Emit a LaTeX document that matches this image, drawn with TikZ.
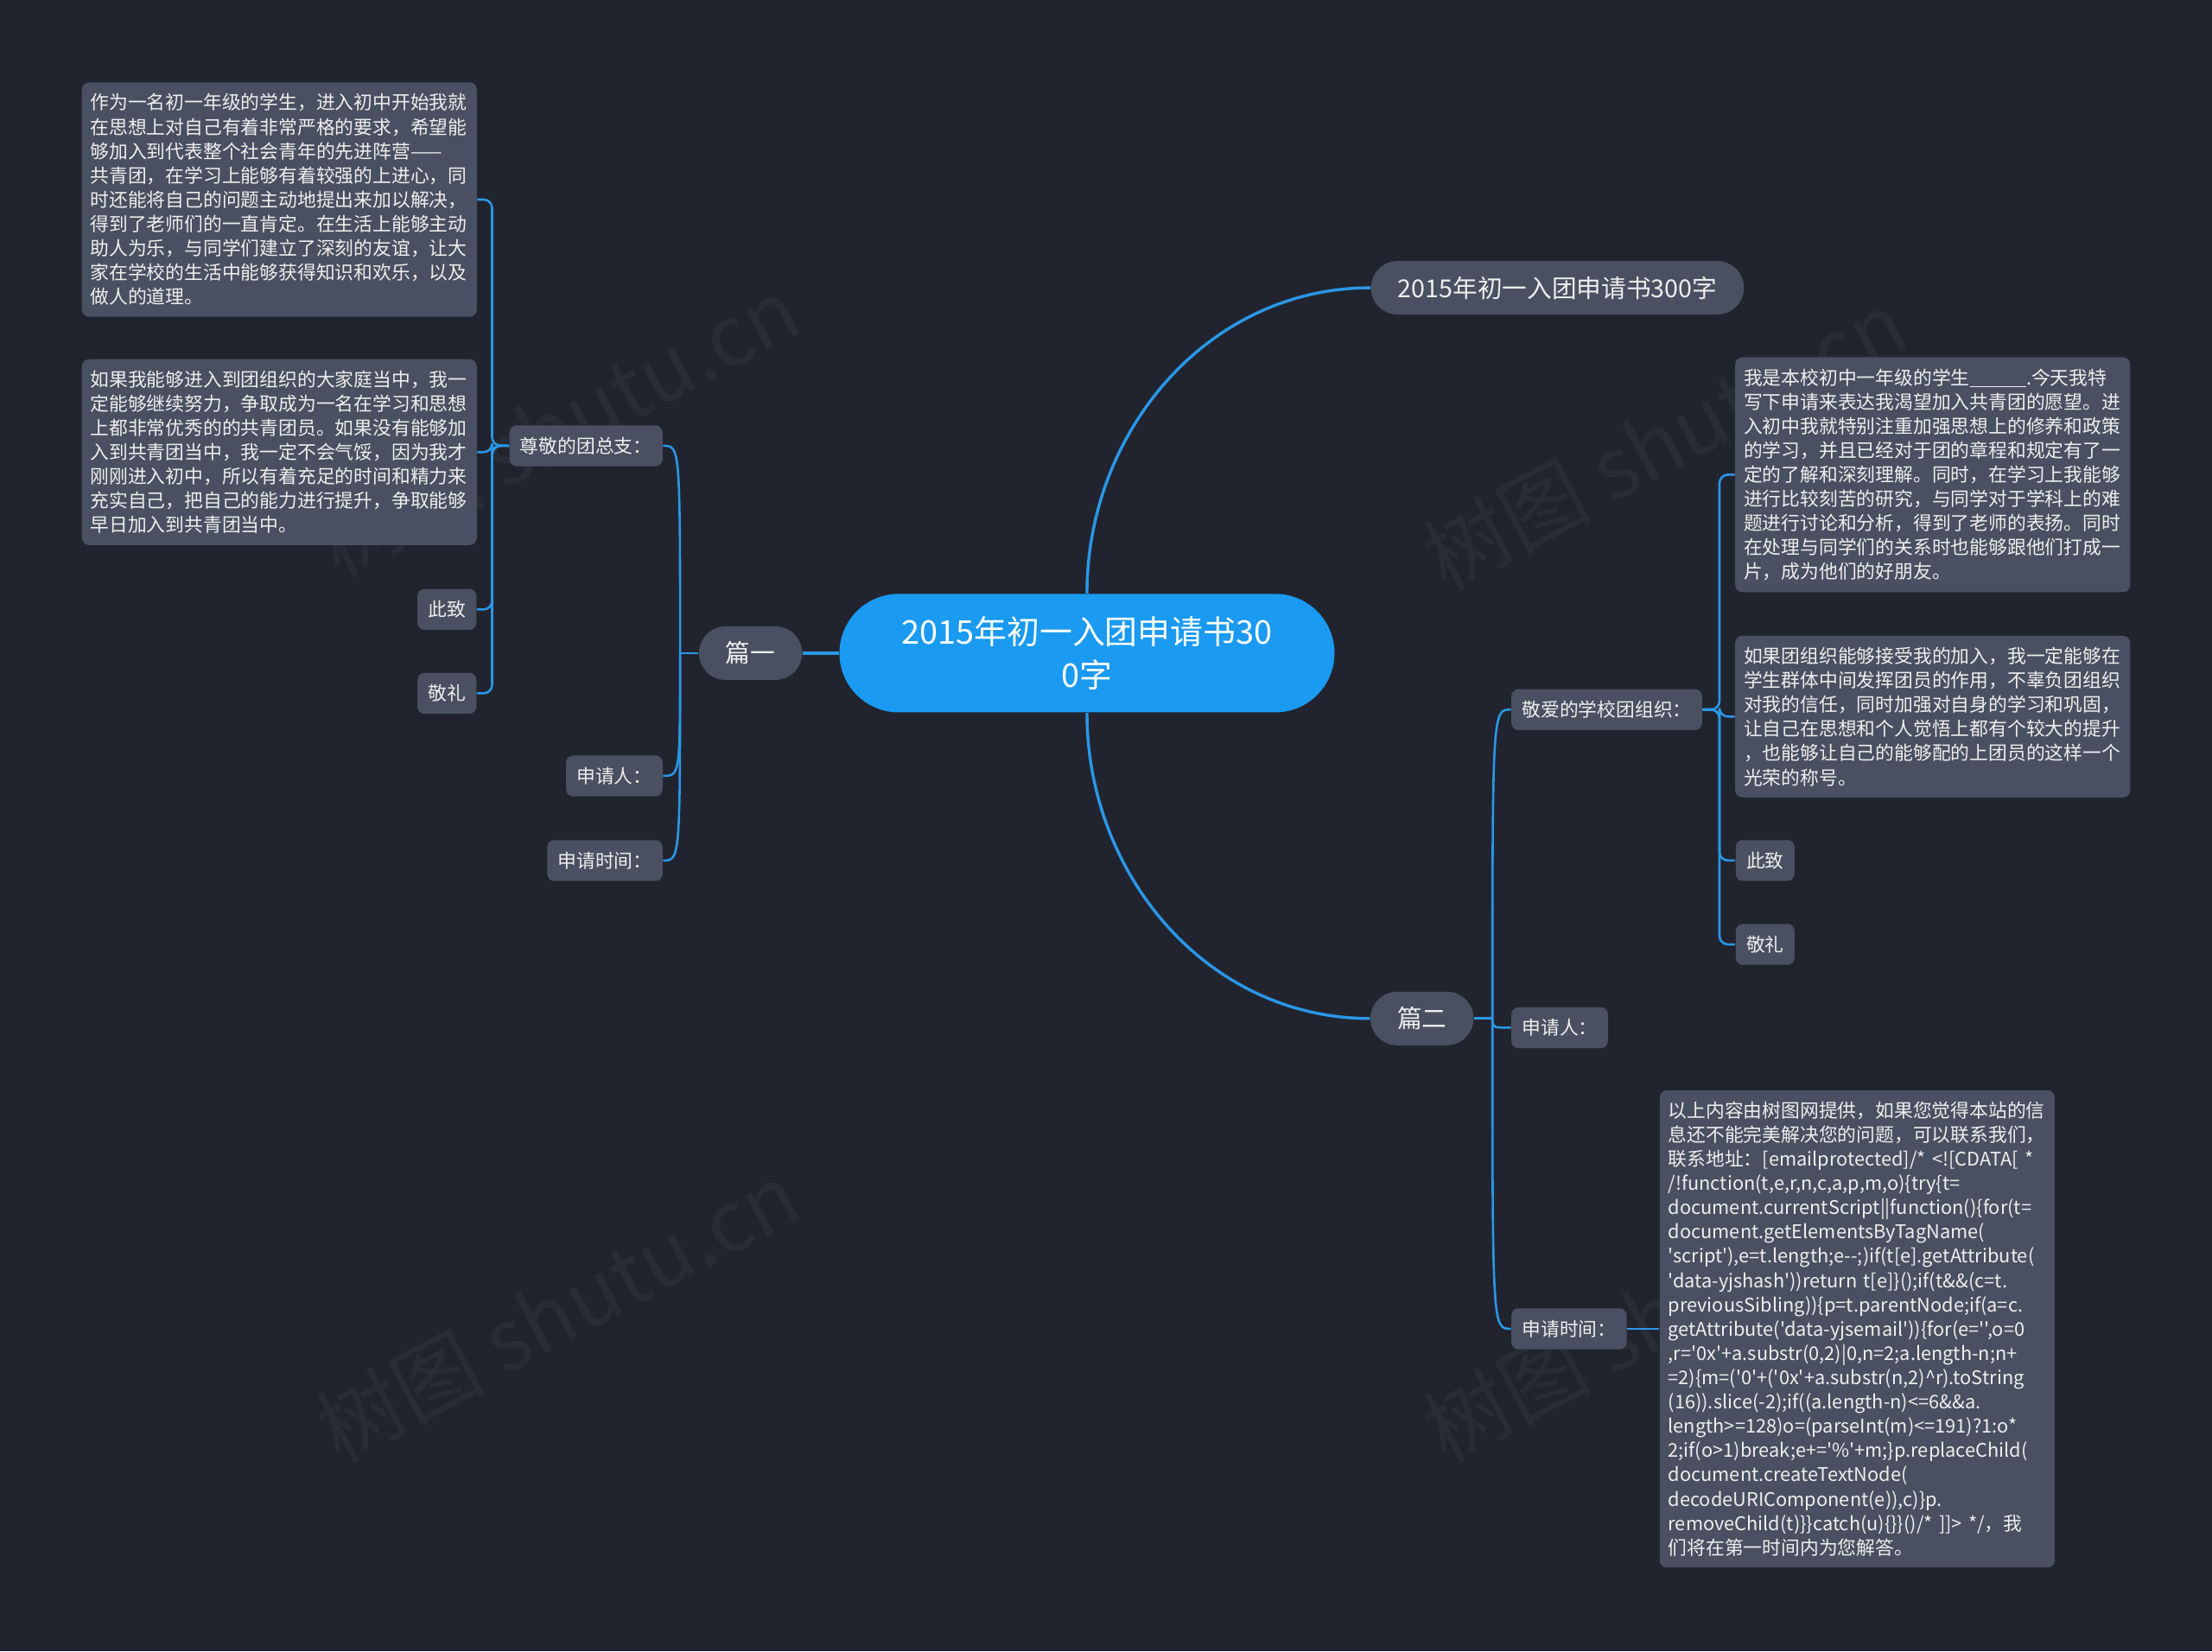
\documentclass[tikz,border=0pt]{standalone}
\usepackage{fontspec}
\setmainfont{Noto Sans CJK SC}[Ligatures=TeXOff]
\hyphenpenalty=10000
\exhyphenpenalty=10000

\definecolor{bgcol}{HTML}{21242F}
\definecolor{boxcol}{HTML}{4A5061}
\definecolor{rootcol}{HTML}{1A9AF0}
\definecolor{linkcol}{HTML}{2A97E6}
\definecolor{txtcol}{HTML}{EEEEEE}

\tikzset{
  link/.style={draw=linkcol, line width=0.9pt},
  root/.style={fill=rootcol, text=white, rounded corners=0.84cm, minimum width=7.02cm,
    minimum height=1.68cm, align=center, font=\fontsize{13.2}{17.6}\selectfont},
  topic/.style={fill=boxcol, text=txtcol, rounded corners=0.38cm, minimum height=0.76cm,
    inner xsep=0.38cm, font=\fontsize{10}{12}\selectfont},
  leaf/.style={fill=boxcol, text=txtcol, rounded corners=0.1cm, minimum height=0.58cm,
    inner xsep=0.15cm, font=\fontsize{7.6}{9.8}\selectfont},
  para/.style={fill=boxcol, text=txtcol, rounded corners=0.1cm, text width=5.36cm,
    align=left, inner xsep=0.12cm, inner ysep=0.16cm, font=\fontsize{7.6}{9.8}\selectfont},
  wmark/.style={text=white, opacity=0.04, rotate=28, font=\fontsize{34}{34}\selectfont}
}

\begin{document}
\begin{tikzpicture}[x=0.02cm, y=-0.02cm]

  \fill[bgcol] (0,0) rectangle (1568,1170.5);
  \useasboundingbox (0,0) rectangle (1568,1170.5);

  % watermark
  \foreach \wx/\wy [count=\i] in {395/302, 1180/312, 395/930, 1180/930} {
    \node[wmark] (wm\i) at (\wx,\wy) {树图 shutu.cn};
  }

  % centre and first level
  \node[root] (root) at (770.5,463) {2015年初一入团申请书30\\0字};
  \node[topic] (b1) at (1104,204) {2015年初一入团申请书300字};
  \node[topic] (p1) at (532,463) {篇一};
  \node[topic] (p2) at (1008,722) {篇二};

  \draw[link, line width=1.2pt] (root.west) -- (p1.east);
  \draw[link, line width=1.2pt] (root.north) .. controls +(0,-115) and +(-115,0) .. (b1.west);
  \draw[link, line width=1.2pt] (root.south) .. controls +(0,115) and +(-115,0) .. (p2.west);

  % 篇一
  \node[leaf, anchor=east] (zz) at (470,316) {尊敬的团总支：};
  \node[leaf, anchor=east] (sq1) at (470,550) {申请人：};
  \node[leaf, anchor=east] (sj1) at (470,610) {申请时间：};

  \node[para] (t1) at (198,141.5) {作为一名初一年级的学生，进入初中开始我就\\
    在思想上对自己有着非常严格的要求，希望能\\
    够加入到代表整个社会青年的先进阵营——\\
    共青团，在学习上能够有着较强的上进心，同\\
    时还能将自己的问题主动地提出来加以解决，\\
    得到了老师们的一直肯定。在生活上能够主动\\
    助人为乐，与同学们建立了深刻的友谊，让大\\
    家在学校的生活中能够获得知识和欢乐，以及\\
    做人的道理。};
  \node[para] (t2) at (198,320.5) {如果我能够进入到团组织的大家庭当中，我一\\
    定能够继续努力，争取成为一名在学习和思想\\
    上都非常优秀的的共青团员。如果没有能够加\\
    入到共青团当中，我一定不会气馁，因为我才\\
    刚刚进入初中，所以有着充足的时间和精力来\\
    充实自己，把自己的能力进行提升，争取能够\\
    早日加入到共青团当中。};
  \node[leaf, anchor=east] (cz1) at (338,432) {此致};
  \node[leaf, anchor=east] (jl1) at (338,491.5) {敬礼};

  \draw[link] (p1.west) -- ++(-13,0) coordinate (p1j);
  \foreach \c in {zz,sq1,sj1}
    \draw[link] (p1j) .. controls (p1j |- \c.east) and (p1j |- \c.east) .. (\c.east);
  \foreach \c in {t1,t2,cz1,jl1}
    \draw[link, rounded corners=0.12cm] (zz.west) -- ++(-12,0) |- (\c.east);

  % 篇二
  \node[leaf, anchor=west] (ja) at (1071,503) {敬爱的学校团组织：};
  \node[leaf, anchor=west] (sq2) at (1071,728.5) {申请人：};
  \node[leaf, anchor=west] (sj2) at (1071,942) {申请时间：};

  \node[para] (t3) at (1370,336.5) {我是本校初中一年级的学生\rule[-1.2pt]{3em}{0.5pt}.今天我特\\
    写下申请来表达我渴望加入共青团的愿望。进\\
    入初中我就特别注重加强思想上的修养和政策\\
    的学习，并且已经对于团的章程和规定有了一\\
    定的了解和深刻理解。同时，在学习上我能够\\
    进行比较刻苦的研究，与同学对于学科上的难\\
    题进行讨论和分析，得到了老师的表扬。同时\\
    在处理与同学们的关系时也能够跟他们打成一\\
    片，成为他们的好朋友。};
  \node[para] (t4) at (1370,508) {如果团组织能够接受我的加入，我一定能够在\\
    学生群体中间发挥团员的作用，不辜负团组织\\
    对我的信任，同时加强对自身的学习和巩固，\\
    让自己在思想和个人觉悟上都有个较大的提升\\
    ，也能够让自己的能够配的上团员的这样一个\\
    光荣的称号。};
  \node[leaf, anchor=west] (cz2) at (1230,610) {此致};
  \node[leaf, anchor=west] (jl2) at (1230,669.5) {敬礼};

  \node[para] (t5) at (1316.5,942) {以上内容由树图网提供，如果您觉得本站的信\\
    息还不能完美解决您的问题，可以联系我们，\\
    联系地址：[emailprotected]/*~<![CDATA[~*\\
    /!function(t,e,r,n,c,a,p,m,o)\{try\{t=\\
    document.currentScript||function()\{for(t=\\
    document.getElementsByTagName(\\
    'script'),e=t.length;e--;)if(t[e].getAttribute(\\
    'data-yjshash'))return t[e]\}();if(t\&\&(c=t.\\
    previousSibling))\{p=t.parentNode;if(a=c.\\
    getAttribute('data-yjsemail'))\{for(e='',o=0\\
    ,r='0x'+a.substr(0,2)|0,n=2;a.length-n;n+\\
    =2)\{m=('0'+('0x'+a.substr(n,2)\textasciicircum r).toString\\
    (16)).slice(-2);if((a.length-n)<=6\&\&a.\\
    length>=128)o=(parseInt(m)<=191)?1:o*\\
    2;if(o>1)break;e+='\%'+m;\}p.replaceChild(\\
    document.createTextNode(\\
    decodeURIComponent(e)),c)\}p.\\
    removeChild(t)\}\}catch(u)\{\}\}()/*~]]>~*/，我\\
    们将在第一时间内为您解答。};

  \draw[link] (p2.east) -- ++(13,0) coordinate (p2j);
  \foreach \c in {ja,sq2,sj2}
    \draw[link] (p2j) .. controls (p2j |- \c.west) and (p2j |- \c.west) .. (\c.west);
  \foreach \c in {t3,t4,cz2,jl2}
    \draw[link, rounded corners=0.12cm] (ja.east) -- ++(12,0) |- (\c.west);
  \draw[link] (sj2.east) -- (t5.west);

\end{tikzpicture}
\end{document}
